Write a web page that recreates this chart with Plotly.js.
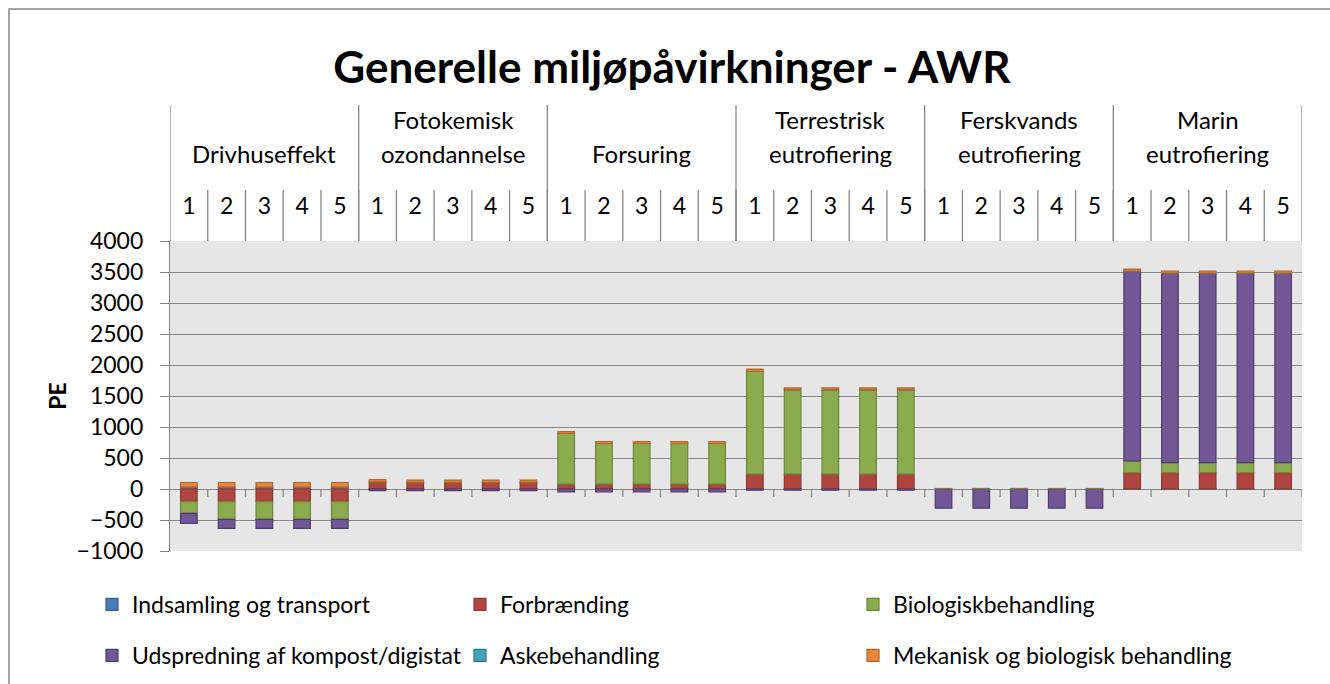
<!DOCTYPE html>
<html><head><meta charset="utf-8">
<script src="https://cdn.plot.ly/plotly-3.0.1.min.js"></script>
<style>html,body{margin:0;padding:0;background:#fff}#chart{width:1330px;height:684px}</style>
</head><body><div id="chart"></div>
<script>
const impactCategories = ["Drivhuseffekt", "Fotokemisk ozondannelse", "Forsuring", "Terrestrisk eutrofiering", "Ferskvands eutrofiering", "Marin eutrofiering"];
const scenarios = ["1", "2", "3", "4", "5"];
const seriesNames = ["Indsamling og transport", "Forbrænding", "Biologiskbehandling", "Udspredning af kompost/digistat", "Askebehandling", "Mekanisk og biologisk behandling"];

const indsamling   = [30,30,30,30,30, 3,3,3,3,3, 3,3,3,3,3, 3,3,3,3,3, 0,0,0,0,0, 3,3,3,3,3];
const forbraending = [-204,-204,-204,-204,-204, 102,102,102,102,102, 75,75,75,75,75, 237,237,237,237,237, 0,0,0,0,0, 263,263,263,263,263];
const biologisk    = [-188,-285,-285,-285,-285, 10,4,4,4,4, 817,656,656,656,656, 1656,1360,1360,1360,1360, 0,0,0,0,0, 188,161,161,161,161];
const udspredning  = [-161,-145,-145,-145,-145, -25,-25,-25,-25,-25, -45,-45,-45,-45,-45, -20,-20,-20,-20,-20, -310,-310,-310,-310,-310, 3059,3054,3054,3054,3054];
const aske         = [0,0,0,0,0, 0,0,0,0,0, 0,0,0,0,0, 0,0,0,0,0, 8,8,8,8,8, 0,0,0,0,0];
const mekanisk     = [75,75,75,75,75, 35,35,35,35,35, 32,32,32,32,32, 38,32,32,32,32, 0,0,0,0,0, 32,32,32,32,32];

const seriesValues = [indsamling, forbraending, biologisk, udspredning, aske, mekanisk];
const fillColors = ["#4A7EBB", "#B0443F", "#8CAA4E", "#715795", "#43A3BD", "#E8863B"];
const lineColors = ["#385D8A", "#8C3836", "#6A863A", "#503D6C", "#31788C", "#B0662C"];
const legendOf = ["legend", "legend2", "legend3", "legend", "legend2", "legend3"];

const nCat = impactCategories.length, nSc = scenarios.length;
const xIdx = [], tickText = [];
for (let g = 0; g < nCat; g++) for (let s = 0; s < nSc; s++) { xIdx.push(g * nSc + s); tickText.push(scenarios[s]); }

const FONT = "Lato, 'Open Sans', sans-serif";
const grid = "#878787";

const traces = seriesNames.map((name, i) => ({
  type: "bar", name: name, x: xIdx, y: seriesValues[i],
  marker: {color: fillColors[i], line: {color: lineColors[i], width: 1.2}},
  legend: legendOf[i], legendgroup: "g" + i, hoverinfo: "x+y+name"
}));

// plot area pixel geometry
const L = 170, R = 28, T = 241, B = 133, W = 1330, H = 684;
const pw = W - L - R, ph = H - T - B;
const py = (Y) => (H - B - Y) / ph;   // pixel y -> paper y
const px = (X) => (X - L) / pw;       // pixel x -> paper x

const shapes = [];
const total = nCat * nSc;
for (let k = 1; k <= total; k++) {
  shapes.push({type: "line", xref: "x", yref: "y", ysizemode: "pixel", yanchor: 0,
    x0: k - 0.5, x1: k - 0.5, y0: 0, y1: -8, line: {color: grid, width: 1.3}});
}
for (let k = 1; k < total; k++) {
  shapes.push({type: "line", xref: "x", yref: "paper",
    x0: k - 0.5, x1: k - 0.5, y0: 1, y1: py(190), line: {color: grid, width: 1.3}});
}
for (let g = 0; g <= nCat; g++) {
  shapes.push({type: "line", xref: "x", yref: "paper",
    x0: g * nSc - 0.5, x1: g * nSc - 0.5, y0: 1, y1: py(105), line: {color: grid, width: 1.3}});
}
shapes.push({type: "rect", xref: "paper", yref: "paper", x0: px(9), x1: px(1345), y0: py(700), y1: py(9),
  line: {color: grid, width: 1.5}, fillcolor: "rgba(0,0,0,0)", layer: "below"});

const annotations = [];
impactCategories.forEach((c, g) => {
  const parts = c.split(" ");
  const lines = parts.length > 1 ? parts : ["", parts[0]];
  lines.forEach((t, j) => {
    if (!t) return;
    annotations.push({xref: "x", yref: "paper", x: g * nSc + (nSc - 1) / 2, y: py(j === 0 ? 120 : 154),
      yanchor: "middle", xanchor: "center", showarrow: false, text: t, font: {family: FONT, size: 24, color: "#000"}});
  });
});

const legendBase = {orientation: "v", yanchor: "top", xanchor: "left", font: {family: FONT, size: 23, color: "#000"},
  bgcolor: "rgba(0,0,0,0)", tracegroupgap: 18, itemclick: false, itemdoubleclick: false};

const layout = {
  width: W, height: H,
  margin: {l: L, r: R, t: T, b: B, pad: 0, autoexpand: false},
  paper_bgcolor: "#fff", plot_bgcolor: "#E6E6E6",
  barmode: "relative", bargap: 0.56,
  title: {text: "<b>Generelle miljøpåvirkninger - AWR</b>", xref: "container", yref: "container",
    x: 672 / W, y: 1 - 68 / H, xanchor: "center", yanchor: "middle",
    font: {family: FONT, size: 44, color: "#000"}},
  xaxis: {side: "top", range: [-0.5, total - 0.5], tickmode: "array", tickvals: xIdx, ticktext: tickText,
    showgrid: false, zeroline: false, showline: false, ticks: "", ticklabelstandoff: 21,
    tickfont: {family: FONT, size: 23, color: "#000"}, fixedrange: true, automargin: false},
  yaxis: {range: [-1000, 4000], dtick: 500, tick0: 0, showgrid: true, gridcolor: grid, gridwidth: 1.3,
    zeroline: true, zerolinecolor: grid, zerolinewidth: 1.3, showline: true, linecolor: grid, linewidth: 1.3,
    ticks: "outside", ticklen: 9, tickcolor: grid, tickwidth: 1.3, ticklabelstandoff: 12,
    tickfont: {family: FONT, size: 23, color: "#000"}, fixedrange: true, automargin: false,
    title: {text: "<b>PE</b>", standoff: 3, font: {family: FONT, size: 23, color: "#000"}}},
  legend:  Object.assign({}, legendBase, {x: px(92),  y: py(583)}),
  legend2: Object.assign({}, legendBase, {x: px(460), y: py(583)}),
  legend3: Object.assign({}, legendBase, {x: px(853), y: py(583)}),
  shapes: shapes, annotations: annotations, showlegend: true
};

Plotly.newPlot("chart", traces, layout, {displayModeBar: false, responsive: false});
</script>
</body></html>
